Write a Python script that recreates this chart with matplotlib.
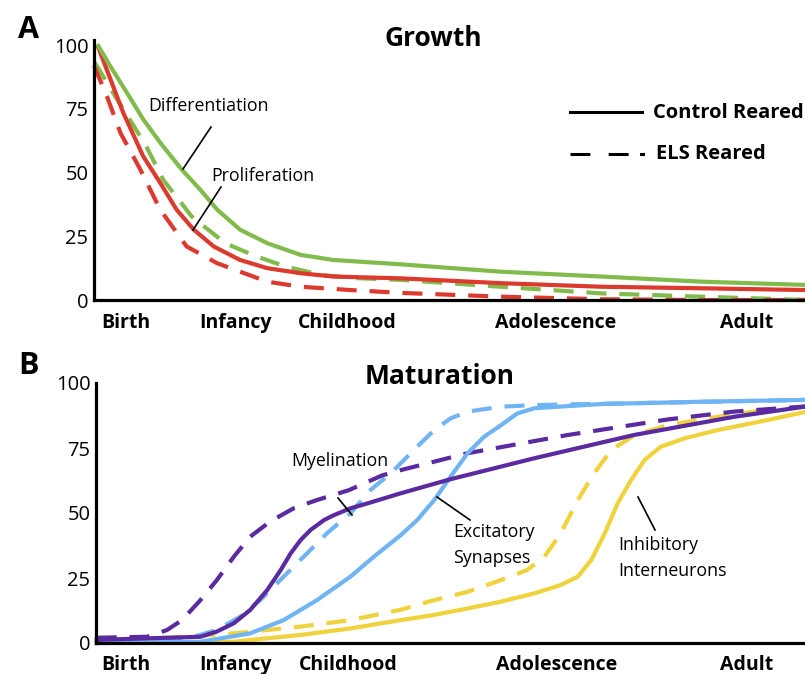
import matplotlib
matplotlib.use("Agg")
import matplotlib.pyplot as plt
from matplotlib.lines import Line2D

plt.rcParams['font.family'] = ['Open Sans', 'DejaVu Sans']

W, H = 805, 674

# ---------------- data ----------------
stage_labels = ["Birth", "Infancy", "Childhood", "Adolescence", "Adult"]
stage_pos_A = [4.4, 19.8, 35.6, 64.8, 91.6]
stage_pos_B = [4.2, 19.7, 35.5, 64.8, 91.5]
y_ticks = [0, 25, 50, 75, 100]

# Panel A: Growth
diff_ctrl_x = [0.6, 2.25, 4.6, 6.9, 9.3, 12.3, 14.9, 17.3, 20.5, 24.3, 29.0, 33.6, 43.0, 57.1, 71.2, 85.2, 100]
diff_ctrl_y = [99.7, 91.9, 81.4, 70.9, 61.7, 51.2, 43.3, 35.4, 27.6, 22.3, 17.7, 15.7, 14.0, 11.1, 9.2, 7.2, 5.9]
diff_els_x = [0.1, 3.4, 7.2, 9.7, 13.7, 18.4, 22.6, 26.9, 32.0, 36.7, 43.0, 57.1, 71.2, 85.2, 97.9, 100]
diff_els_y = [93.2, 78, 61, 47.2, 32.8, 22.3, 17.3, 13.1, 9.8, 8.6, 7.9, 5.2, 2.6, 1.3, 0.2, 0]
prol_ctrl_x = [0.6, 4.1, 6.9, 9.3, 11.6, 14.0, 16.8, 20.5, 24.3, 29.0, 33.6, 43.0, 57.1, 71.2, 85.2, 100]
prol_ctrl_y = [99.1, 73.5, 56.4, 45.9, 35.4, 27.6, 21, 15.7, 12.5, 10.5, 9.2, 8.5, 6.6, 5.2, 4.6, 3.9]
prol_els_x = [0, 1.8, 3.7, 6.5, 9.3, 13.0, 17.3, 24.3, 29.0, 36.0, 43.0, 57.1, 71.2, 85.2, 100]
prol_els_y = [91.9, 80, 65.6, 51.2, 35.4, 21, 14.4, 7.2, 5.2, 3.9, 2.8, 1.3, 0.3, 0, 0]

# Panel B: Maturation
mye_ctrl_x = [0.1, 14.7, 17.0, 19.4, 21.7, 24.1, 26.0, 27.4, 28.8, 30.2, 32.1, 33.5, 35.8, 38.2, 42.9,
              49.9, 61.6, 75.7, 89.8, 100]
mye_ctrl_y = [1.2, 2.4, 4.4, 7.6, 12.7, 20.4, 28.1, 34.5, 39.6, 43.5, 47.3, 49.2, 51.8, 53.7, 57.6,
              63, 71, 80, 87, 91]
mye_els_x = [0.1, 7.2, 10.0, 12.1, 14.7, 17.0, 19.4, 21.7, 24.5, 27.8, 31.1, 35.6, 40.3, 42.9,
             52.3, 66.4, 80.5, 89.8, 100]
mye_els_y = [2, 2.4, 5, 8.8, 16.5, 24.2, 33.2, 40.9, 46.7, 51.8, 55, 58.8, 64.5, 66.5,
             73, 80, 86, 89, 91]
exc_ctrl_x = [0.1, 14.7, 21.7, 26.4, 31.1, 35.8, 39.1, 42.9, 45.2, 47.6, 49.9, 52.3, 54.6, 57.0,
              59.3, 61.7, 71.1, 85.2, 100]
exc_ctrl_y = [0, 0.5, 3.7, 8.8, 16.5, 25.5, 33.2, 41.5, 47.3, 55, 64, 73, 79.3, 83.8,
              88.3, 90.3, 91.9, 92.8, 93.5]
exc_els_x = [0.1, 12.3, 17.0, 20.3, 23.1, 26.4, 29.7, 32.5, 35.8, 38.6, 41.5, 42.9, 45.2, 47.6,
             49.9, 52.3, 57.0, 61.7, 71.1, 100]
exc_els_y = [0, 1.2, 5, 10.1, 16.5, 25.5, 34.5, 42.2, 49.9, 58.8, 65.3, 69.2, 75.5, 81.9,
             86.4, 89, 90.9, 91.5, 92, 93.5]
inh_ctrl_x = [0.1, 19.4, 28.8, 35.8, 42.9, 47.6, 52.3, 57.0, 61.7, 65.4, 67.8, 69.7, 71.6, 73.4,
              75.3, 77.2, 79.5, 82.8, 87.5, 94.6, 100]
inh_ctrl_y = [0, 0.5, 3.1, 5.6, 8.8, 10.8, 13.3, 15.9, 19.1, 22.3, 25.5, 31.9, 42.2, 53.7,
              62.7, 70.4, 75.5, 78.7, 81.9, 85.8, 89]
inh_els_x = [0.1, 10.0, 19.4, 28.8, 35.8, 42.9, 47.6, 52.3, 57.0, 60.7, 63.1, 65.4, 67.8, 70.1,
             72.5, 75.8, 80.5, 87.5, 94.1]
inh_els_y = [2, 2, 3.7, 6.3, 8.8, 12.8, 16.5, 19.7, 24.2, 28.1, 33.2, 42.2, 55, 65.3,
             74.2, 80, 83.8, 87, 89.6]

GREEN = '#80bb4c'
RED = '#dc3a2e'
PURPLE = '#5a2aa0'
BLUE = '#70b4f3'
YELLOW = '#f0d23c'

LW = 3.0
DASH = (0, (4.8, 3.1))

fig = plt.figure(figsize=(W / 100, H / 100), dpi=100)

def fx(px):
    return px / W

def fy(py):
    return 1 - py / H

def style_axes(ax, ticks_pos, ylim_top, xpad):
    ax.set_xlim(0, 100)
    ax.set_ylim(0, ylim_top)
    for s in ['top', 'right']:
        ax.spines[s].set_visible(False)
    for s in ['left', 'bottom']:
        ax.spines[s].set_linewidth(2.3)
        ax.spines[s].set_color('black')
    ax.set_xticks(ticks_pos)
    ax.set_xticklabels(stage_labels, fontsize=14, fontweight='bold')
    ax.set_yticks(y_ticks)
    ax.set_yticklabels([str(v) for v in y_ticks], fontsize=14.5)
    ax.tick_params(axis='both', length=0)
    ax.tick_params(axis='x', pad=xpad)
    ax.tick_params(axis='y', pad=4)
    ax.patch.set_visible(False)

def draw(ax, x, y, color, dashed):
    if dashed:
        ax.plot(x, y, color=color, lw=LW, linestyle=DASH, clip_on=False,
                dash_joinstyle='round')
    else:
        ax.plot(x, y, color=color, lw=LW, clip_on=False, solid_joinstyle='round')

# ---------------- Panel A ----------------
axA = fig.add_axes([fx(94), fy(300), fx(805) - fx(94) + 0.002, fy(40) - fy(300)])
style_axes(axA, stage_pos_A, 102, 9.5)
draw(axA, diff_els_x, diff_els_y, GREEN, True)
draw(axA, prol_els_x, prol_els_y, RED, True)
draw(axA, prol_ctrl_x, prol_ctrl_y, RED, False)
draw(axA, diff_ctrl_x, diff_ctrl_y, GREEN, False)

# ---------------- Panel B ----------------
axB = fig.add_axes([fx(96), fy(643), fx(805) - fx(96) + 0.002, fy(383) - fy(643)])
style_axes(axB, stage_pos_B, 100, 8.5)
draw(axB, inh_els_x, inh_els_y, YELLOW, True)
draw(axB, exc_els_x, exc_els_y, BLUE, True)
draw(axB, mye_els_x, mye_els_y, PURPLE, True)
draw(axB, inh_ctrl_x, inh_ctrl_y, YELLOW, False)
draw(axB, exc_ctrl_x, exc_ctrl_y, BLUE, False)
draw(axB, mye_ctrl_x, mye_ctrl_y, PURPLE, False)

# ---------------- texts ----------------
def ftext(px, py, s, **kw):
    fig.text(fx(px), fy(py), s, **kw)

def fline(x0, y0, x1, y1, lw=1.2, **kw):
    fig.add_artist(Line2D([fx(x0), fx(x1)], [fy(y0), fy(y1)], color='black', lw=lw, **kw))

ftext(28, 30, "A", fontsize=22, fontweight='bold', ha='center', va='center')
ftext(28, 366, "B", fontsize=22, fontweight='bold', ha='center', va='center')
ftext(433, 38, "Growth", fontsize=19, fontweight='bold', ha='center', va='center')
ftext(440, 376, "Maturation", fontsize=19, fontweight='bold', ha='center', va='center')

ann = 12.8
ftext(209, 106, "Differentiation", fontsize=ann, ha='center', va='center')
fline(211, 127, 183, 169)
ftext(263, 176, "Proliferation", fontsize=ann, ha='center', va='center')
fline(221, 187, 193, 230)

ftext(340, 461, "Myelination", fontsize=ann, ha='center', va='center')
fline(338, 498, 352, 515)
ftext(453, 532, "Excitatory", fontsize=ann, ha='left', va='center')
ftext(453, 558, "Synapses", fontsize=ann, ha='left', va='center')
fline(437, 497, 470, 520)
ftext(618, 545, "Inhibitory", fontsize=ann, ha='left', va='center')
ftext(618, 571, "Interneurons", fontsize=ann, ha='left', va='center')
fline(638, 497, 655, 530)

# legend
fline(570, 112, 642, 112, lw=2.2)
fline(570, 154, 634, 154, lw=2.2, linestyle=(0, (6.5, 6.0)))
fline(641, 154, 643, 154, lw=2.2)
ftext(653, 113, "Control Reared", fontsize=14.5, fontweight='bold', ha='left', va='center')
ftext(656, 154, "ELS Reared", fontsize=14.5, fontweight='bold', ha='left', va='center')

fig.savefig("out.png", dpi=100)
